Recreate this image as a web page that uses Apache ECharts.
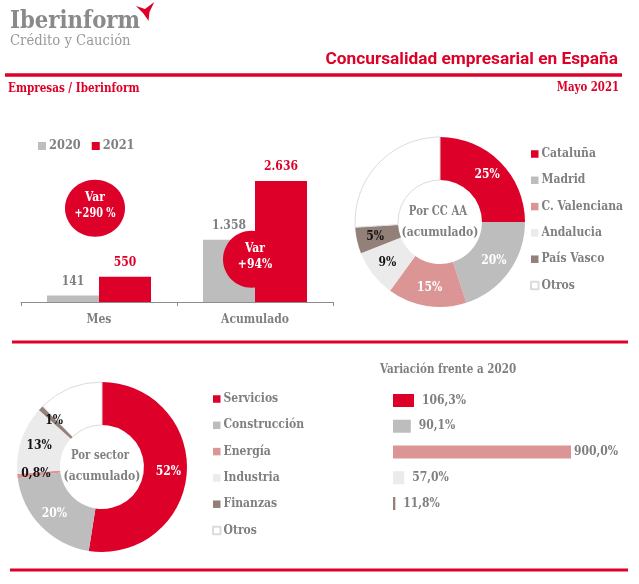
<!DOCTYPE html>
<html><head><meta charset="utf-8">
<style>html,body{margin:0;padding:0;background:#fff}#c{width:639px;height:584px}</style>
<script src="https://cdn.jsdelivr.net/npm/echarts@6/dist/echarts.min.js"></script>
</head><body><div id="c"></div>
<script>
const barCats = ['Mes','Acumulado'];
const v2020 = [141,1358];
const v2021 = [550,2636];
const ccaaNames = ['Cataluña','Madrid','C. Valenciana','Andalucia','País Vasco','Otros'];
const ccaaVals = [25,20,15,9,5,26];
const ccaaLabels = ['25%','20%','15%','9%','5%',''];
const sectorNames = ['Servicios','Construcción','Energía','Industria','Finanzas','Otros '];
const sectorVals = [52.5,20.4,0.8,13,1,12.3];
const sectorLabels = ['52%','20%','0,8%','13%','1%',''];
const varCats = ['Servicios','Construcción','Energía','Industria','Finanzas'];
const varVals = [106.3,90.1,900,57,11.8];
const varLabels = ['106,3%','90,1%','900,0%','57,0%','11,8%'];

const RED='#dd0029',GREY='#bdbdbd',PINK='#da9594',LIGHT='#ebebeb',BROWN='#938079',TXT='#7f7f7f';
const SER='"DejaVu Serif Condensed","DejaVu Serif",serif';
const colors=[RED,GREY,PINK,LIGHT,BROWN,'#ffffff'];
const labelCol1=['#fff','#fff','#fff','#111','#111','#111'];
const labelCol2=['#fff','#fff','#111','#111','#111','#111'];
const fmt=n=>String(n).replace(/\B(?=(\d{3})+$)/g,'.');

function pieData(names,vals,labels,lc){
  return names.map((n,i)=>({name:n,value:vals[i],
    itemStyle:{color:colors[i],borderColor:i===5?'#dcdcdc':colors[i],borderWidth:i===5?1:0},
    label:{show:labels[i]!=='',formatter:labels[i],color:lc[i]}}));
}
const pieCommon={type:'pie',radius:[42,85],startAngle:90,clockwise:true,silent:true,animation:false,
  labelLine:{show:false},
  label:{position:'inside',fontFamily:SER,fontWeight:'bold',fontSize:12}};
const legendCommon={orient:'vertical',itemWidth:7.5,itemHeight:7.5,itemGap:12.3,icon:'rect',selectedMode:false,padding:0,
  textStyle:{fontFamily:SER,fontWeight:'bold',fontSize:12,color:TXT,lineHeight:14,padding:[0,0,0,-2]}};
const T=(x,y,text,o={})=>{const {scaleX,...st}=o;return {type:'text',x,y,scaleX:scaleX||1,z:10,style:Object.assign({text,fill:TXT,fontFamily:SER,fontWeight:'bold',fontSize:12,align:'center',verticalAlign:'middle'},st)}};
const L=(x1,x2,y,h)=>({type:'rect',shape:{x:x1,y:y,width:x2-x1,height:h},style:{fill:RED},z:1});

const option={
  animation:false,
  backgroundColor:'#fff',
  grid:[
    {left:21,width:312,top:164.3,height:137.7},
    {left:393,width:178,top:387.6,height:128.8}
  ],
  xAxis:[
    {gridIndex:0,type:'category',data:barCats,
     axisLine:{lineStyle:{color:'#8c8c8c',width:1}},
     axisTick:{show:true,length:4,lineStyle:{color:'#8c8c8c'}},
     axisLabel:{color:TXT,fontFamily:SER,fontWeight:'bold',fontSize:12,margin:12}},
    {gridIndex:1,type:'value',min:0,max:900,show:false}
  ],
  yAxis:[
    {gridIndex:0,type:'value',min:0,max:3000,show:false},
    {gridIndex:1,type:'category',inverse:true,data:varCats,show:false}
  ],
  legend:[
    Object.assign({},legendCommon,{orient:'horizontal',left:38,top:139,itemWidth:8,itemHeight:8,itemGap:11,data:['2020','2021'],textStyle:Object.assign({},legendCommon.textStyle,{fontSize:12.7})}),
    Object.assign({},legendCommon,{left:530,top:147,data:ccaaNames}),
    Object.assign({},legendCommon,{left:212,top:392,data:sectorNames})
  ],
  series:[
    {type:'bar',name:'2020',data:v2020,xAxisIndex:0,yAxisIndex:0,barWidth:52,barGap:0,itemStyle:{color:GREY},silent:true,
     label:{show:true,position:'top',distance:8,color:TXT,fontFamily:SER,fontWeight:'bold',fontSize:12,formatter:p=>fmt(p.value)}},
    {type:'bar',name:'2021',data:v2021,xAxisIndex:0,yAxisIndex:0,barWidth:52,barGap:0,itemStyle:{color:RED},silent:true,
     label:{show:true,position:'top',distance:8,color:RED,fontFamily:SER,fontWeight:'bold',fontSize:12,formatter:p=>fmt(p.value)}},
    {type:'bar',name:'Variación',xAxisIndex:1,yAxisIndex:1,barWidth:13,silent:true,
     data:varVals.map((v,i)=>({value:v,itemStyle:{color:colors[i]},
       label:{distance:i===2?3:8}})),
     label:{show:true,position:'right',color:TXT,fontFamily:SER,fontWeight:'bold',fontSize:12,
       formatter:p=>varLabels[p.dataIndex]}},
    Object.assign({},pieCommon,{name:'CCAA',center:[440,222],data:pieData(ccaaNames,ccaaVals,ccaaLabels,labelCol1)}),
    Object.assign({},pieCommon,{name:'Sector',center:[102,467],data:pieData(sectorNames,sectorVals,sectorLabels,labelCol2)})
  ],
  graphic:[
    L(5,622,73.3,3.4),L(12,628,340.5,3),L(10,628,568.5,3),
    T(10,21,'Iberinform',{align:'left',fontSize:25,fill:'#8a8a8a',scaleX:0.945}),
    T(10,41.5,'Crédito y Caución',{align:'left',fontSize:14.7,fontWeight:'normal',fill:'#9a9a9a'}),
    {type:'polygon',z:10,shape:{points:[[136,6],[145,9],[154.3,2],[149.5,12],[148.5,20.7],[143,13]]},style:{fill:RED}},
    T(618,59.5,'Concursalidad empresarial en España',{align:'right',fontFamily:'Roboto,sans-serif',fontSize:17.3,fill:RED}),
    T(619,87.5,'Mayo 2021',{align:'right',fill:RED,fontSize:12,scaleX:0.94}),
    T(8,89,'Empresas / Iberinform',{align:'left',fill:RED,fontSize:12.3,scaleX:0.94}),
    {type:'ellipse',z:5,shape:{cx:95,cy:208.3,rx:30,ry:28.5},style:{fill:RED}},
    T(95,198,'Var',{fill:'#fff'}),
    T(95,214,'+290 %',{fill:'#fff',fontSize:12,scaleX:0.9}),
    {type:'ellipse',z:5,shape:{cx:251.5,cy:259.3,rx:28.5,ry:28.5},style:{fill:RED}},
    T(255,249,'Var',{fill:'#fff'}),
    T(255,265,'+94%',{fill:'#fff'}),
    T(438,212,'Por CC AA',{fontSize:12.5,scaleX:0.9}),
    T(440,233,'(acumulado)'),
    T(100,456,'Por sector',{fontSize:12.5,scaleX:0.9}),
    T(102,477,'(acumulado)'),
    T(380,370,'Variación frente a 2020',{align:'left',fontSize:12.5,scaleX:0.92})
  ]
};
const chart=echarts.init(document.getElementById('c'),null,{renderer:'canvas'});
chart.setOption(option);
</script></body></html>
